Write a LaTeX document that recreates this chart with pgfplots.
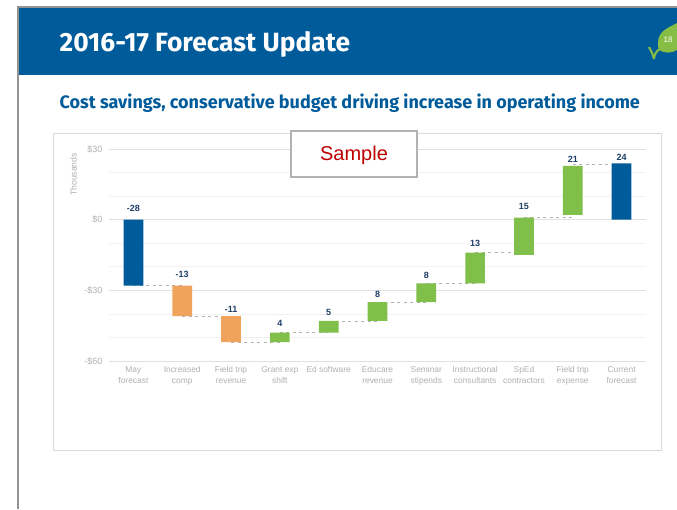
\documentclass[border=0pt]{standalone}
\usepackage{pgfplots}
\pgfplotsset{compat=1.18}
\usepackage{pgfplotstable}
\usepackage{fontspec}
\setmainfont{Liberation Sans}
\newfontfamily\headfont{Fira Sans}
\definecolor{sblue}{HTML}{005B9A}
\definecolor{sorange}{HTML}{F0A35C}
\definecolor{sgreen}{HTML}{80C04A}
\definecolor{slabel}{HTML}{1F3F66}
\definecolor{sgrey}{HTML}{B0B0B0}
\definecolor{sleaf}{HTML}{86BE45}
% x, invisible base, blue, orange, green
\pgfplotstableread{
x base blue orange green
0 0 -28 0 0
1 -28 0 -13 0
2 -41 0 -11 0
3 -52 0 0 4
4 -48 0 0 5
5 -43 0 0 8
6 -35 0 0 8
7 -27 0 0 13
8 -14.9 0 0 15.8
9 2 0 0 20.8
10 0 23.9 0 0
}\bars
\pgfplotstableread{
x y
0 -28
1 -28
1 nan
1 -41
2 -41
2 nan
2 -52
3 -52
3 nan
3 -48
4 -48
4 nan
4 -43
5 -43
5 nan
5 -35
6 -35
6 nan
6 -27
7 -27
7 nan
7 -14
8 -14
8 nan
8 0.8
9 0.8
9 nan
9 23.5
10 23.5
}\conn
\begin{document}
\begin{tikzpicture}[x=1pt,y=1pt]
\path[use as bounding box] (0,0) rectangle (677,509);
% slide
\fill[white] (0,0) rectangle (677,509);
\fill[sblue] (18,434) rectangle (677,502);
\draw[gray!85,line width=1.4pt] (18,0) -- (18,502) -- (677,502);
\node[anchor=west,text=white,inner sep=0pt,font=\headfont\fontsize{26.4}{27}\selectfont\bfseries] at (59.5,465) {2016-17 Forecast Update};
\node[anchor=west,text=sblue,inner sep=0pt,font=\headfont\fontsize{18}{19}\selectfont\bfseries] at (59.5,406) {Cost savings, conservative budget driving increase in operating income};
% leaf
\fill[sleaf] (677,486) .. controls (668,481) and (658,478) .. (658,466) .. controls (658,463) and (658,461) .. (659,459) .. controls (665,455) and (672,456) .. (677,459) -- cycle;
\draw[sleaf,line width=2.1pt] (649,462) .. controls (651,458) and (653,455) .. (654,450);
\draw[sleaf,line width=2.1pt] (654,450) .. controls (654,454) and (656,458) .. (661,461);
\node[text=white,inner sep=0pt,font=\fontsize{8}{8}\selectfont] at (668,469) {18};
% chart frame
\draw[black!15,line width=1pt,fill=white] (53,59) rectangle (661,375);
\begin{axis}[
  at={(109pt,148pt)},anchor=south west,scale only axis,
  width=537pt,height=212pt,
  xmin=-0.5,xmax=10.5,ymin=-60,ymax=30,
  axis line style={draw=none},
  tick style={draw=none},
  xtick={0,...,10},
  xticklabels={May\\forecast,Increased\\comp,Field trip\\revenue,Grant exp\\shift,Ed software,Educare\\revenue,Seminar\\stipends,Instructional\\consultants,SpEd\\contractors,Field trip\\expense,Current\\forecast},
  xticklabel style={align=center,text=sgrey,font=\fontsize{8.4}{11}\selectfont,anchor=north,yshift=-2pt},
  ytick={-60,-30,0,30},
  yticklabels={-\$60,-\$30,\$0,\$30},
  yticklabel style={text=sgrey,font=\fontsize{9}{10}\selectfont,xshift=-3pt},
  minor ytick={-50,-40,-20,-10,10,20},
  ymajorgrids,yminorgrids,
  major grid style={black!12,line width=0.8pt},
  minor grid style={black!5,line width=0.6pt},
  unbounded coords=jump,
  clip=false,
]
\addplot[black!30,dash pattern=on 3pt off 3.5pt,line width=0.8pt,forget plot] table[x=x,y=y] {\conn};
\end{axis}
\begin{axis}[
  at={(109pt,148pt)},anchor=south west,scale only axis,
  width=537pt,height=212pt,
  xmin=-0.5,xmax=10.5,ymin=-60,ymax=30,
  hide axis,clip=false,
  ybar stacked,bar width=19.7pt,stack negative=on previous,
]
\addplot[draw=none,fill=none] table[x=x,y=base] {\bars};
\addplot[draw=none,fill=sblue] table[x=x,y=blue] {\bars};
\addplot[draw=none,fill=sorange] table[x=x,y=orange] {\bars};
\addplot[draw=none,fill=sgreen] table[x=x,y=green] {\bars};
\end{axis}
\begin{axis}[
  at={(109pt,148pt)},anchor=south west,scale only axis,
  width=537pt,height=212pt,
  xmin=-0.5,xmax=10.5,ymin=-60,ymax=30,
  hide axis,clip=false,
]
\addplot[only marks,mark=none,
  nodes near coords,point meta=explicit symbolic,
  every node near coord/.style={anchor=center,inner sep=0pt,text=slabel,font=\fontsize{9}{10}\selectfont\bfseries},
] table[x=x,y=y,meta=t] {
x y t
0 4.67 -28
1 -23.3 -13
2 -38 -11
3 -44 4
4 -39.5 5
5 -31.7 8
6 -23.6 8
7 -10 13
8 5.7 15
9 25.6 21
10 26.6 24
};
\end{axis}
\node[rotate=90,text=sgrey,inner sep=0pt,font=\fontsize{8.6}{9}\selectfont] at (73.5,334.5) {Thousands};
% sample box
\draw[black!30,line width=1.5pt,fill=white] (291,332) rectangle (417,378);
\node[text=red!75!black,inner sep=0pt,font=\fontsize{20}{21}\selectfont] at (354,354) {Sample};
\end{tikzpicture}
\end{document}
